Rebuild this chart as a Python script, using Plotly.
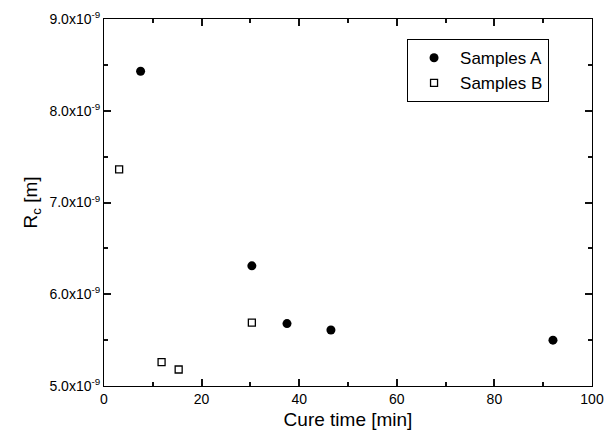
import plotly.graph_objects as go

a_time = [7.5, 30.3, 37.5, 46.5, 92.0]
a_rc_e9 = [8.43, 6.31, 5.68, 5.61, 5.50]   # R_c in units of 1e-9 m
b_time = [3.1, 11.8, 15.3, 30.3]
b_rc_e9 = [7.36, 5.26, 5.18, 5.69]         # R_c in units of 1e-9 m

fig = go.Figure()
fig.add_trace(go.Scatter(x=a_time, y=a_rc_e9, mode="markers", name="Samples A",
                         marker=dict(symbol="circle", size=9, color="black")))
fig.add_trace(go.Scatter(x=b_time, y=b_rc_e9, mode="markers", name="Samples B",
                         marker=dict(symbol="square-open", size=7, color="black",
                                     line=dict(width=1.3, color="black"))))

fig.update_layout(
    width=611, height=437,
    margin=dict(l=104, r=19, t=19, b=51, autoexpand=False),
    plot_bgcolor="white",
    font=dict(family="Liberation Sans, Arial, sans-serif", color="black", size=14),
    legend=dict(x=0.621, y=0.945, xanchor="left", yanchor="top",
                bordercolor="black", borderwidth=1, bgcolor="white",
                font=dict(size=17), itemwidth=42, tracegroupgap=0),
    showlegend=True,
)
fig.update_xaxes(
    range=[0, 100], tick0=0, dtick=20,
    ticks="inside", ticklen=7, tickwidth=2, tickcolor="#111111",
    showline=True, linecolor="black", mirror="ticks",
    minor=dict(ticks="inside", ticklen=4, dtick=10, tick0=0, tickcolor="#111111", tickwidth=2),
    title=dict(text="Cure time [min]", font=dict(size=19), standoff=6),
)
fig.update_yaxes(
    range=[5.0, 9.0], tick0=5, dtick=1, tickformat=".1f", ticksuffix="x10<sup>-9</sup>",
    ticks="inside", ticklen=7, tickwidth=2, tickcolor="#111111",
    showline=True, linecolor="black", mirror="ticks",
    minor=dict(ticks="inside", ticklen=4, dtick=0.5, tick0=5, tickcolor="#111111", tickwidth=2),
    title=dict(text="R<sub>c</sub> [m]", font=dict(size=19), standoff=6),
)

fig.write_html("out.html")
